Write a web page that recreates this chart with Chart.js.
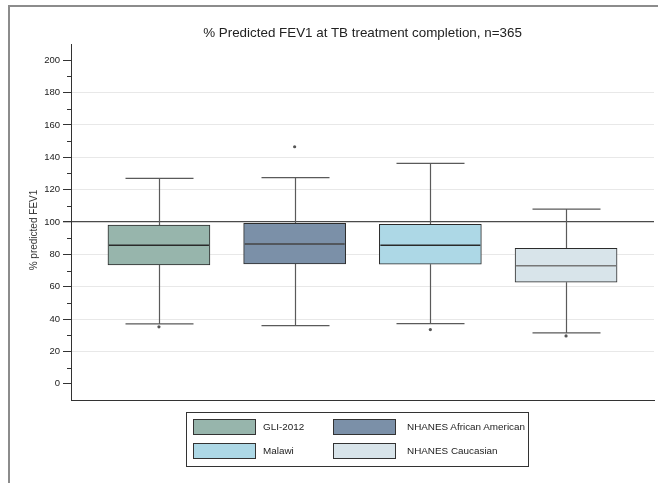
<!DOCTYPE html>
<html>
<head>
<meta charset="utf-8">
<title>% Predicted FEV1 at TB treatment completion</title>
<script src="https://cdn.jsdelivr.net/npm/chart.js@4.4.1/dist/chart.umd.min.js"></script>
<style>
  html, body { margin: 0; padding: 0; background: #fff; }
  #wrap { position: relative; width: 658px; height: 483px; overflow: hidden;
          font-family: "Liberation Sans", Arial, Helvetica, sans-serif; color: #222; }
  #chart { position: absolute; left: 0; top: 0; }
  .frame-top  { position: absolute; left: 8px; top: 5px; width: 650px; height: 2px; background: #8c8c8c; }
  .frame-left { position: absolute; left: 8px; top: 5px; width: 2px; height: 478px; background: #8c8c8c; }
  #title { position: absolute; top: 25px; height: 16px; line-height: 16px; text-align: center;
           font-size: 13.4px; font-weight: normal; color: #222; white-space: nowrap; }
  #ytitle { position: absolute; left: -16px; top: 224px; width: 100px; height: 12px; line-height: 12px;
            text-align: center; transform: rotate(-90deg); transform-origin: 50px 6px;
            font-size: 10px; font-weight: normal; color: #333; white-space: nowrap; }
  #legend { position: absolute; left: 186px; top: 412px; width: 341px; height: 53px; border: 1px solid #333; }
  .lg-sw { position: absolute; width: 61px; height: 14px; border: 1px solid #333; }
  .lg-tx { position: absolute; font-size: 9.9px; line-height: 16px; color: #222; white-space: nowrap; }
</style>
</head>
<body>
<div id="wrap">
  <canvas id="chart" width="658" height="483"></canvas>
  <div class="frame-top"></div>
  <div class="frame-left"></div>
  <div id="title">% Predicted FEV1 at TB treatment completion, n=365</div>
  <div id="ytitle">% predicted FEV1</div>
  <div id="legend"></div>
</div>
<script>
// Reference equation groups
const categories = ['GLI-2012', 'NHANES African American', 'Malawi', 'NHANES Caucasian'];

// Box-plot summaries of % predicted FEV1 per reference equation
const whiskerLow  = [37.0, 36.0, 37.2, 31.5];
const q1          = [73.5, 74.1, 73.9, 62.8];
const median      = [85.6, 86.4, 85.6, 73.0];
const q3          = [98.1, 99.2, 98.6, 83.8];
const whiskerHigh = [127.0, 127.4, 136.2, 108.0];
const outliers    = [[35.2], [146.5], [33.5], [29.6]];

// Axis ticks
const yTicks = [0, 20, 40, 60, 80, 100, 120, 140, 160, 180, 200];
const yMinorTicks = [10, 30, 50, 70, 90, 110, 130, 150, 170, 190];
const referenceLine = 100;

// Styling
const boxColors = ['#97b5ac', '#7b90a8', '#add8e6', '#d8e4ea'];
const medianColors = ['#2a2a2a', '#444444', '#2a2a2a', '#777777'];

const boxDatasets = categories.map((name, i) => ({
  type: 'bar',
  label: name,
  data: [{ x: i, y: [q1[i], q3[i]] }],
  backgroundColor: boxColors[i],
  borderColor: '#2b2b2b',
  borderWidth: 1,
  borderSkipped: false,
  barThickness: 102,
  grouped: false,
  order: 2
}));

const outlierDataset = {
  type: 'scatter',
  label: 'Outliers',
  data: outliers.flatMap((vals, i) => vals.map(v => ({ x: i, y: v }))),
  pointRadius: 1.6,
  pointHoverRadius: 1.6,
  backgroundColor: '#555',
  borderWidth: 0,
  order: 1
};

// Whiskers under the boxes, medians on top, minor ticks on the value axis
const boxPlotPlugin = {
  id: 'boxPlotParts',
  beforeDatasetsDraw(chart) {
    const { ctx, scales: { x, y } } = chart;
    const capHalf = 34;
    ctx.save();
    ctx.strokeStyle = '#5a5a5a';
    ctx.lineWidth = 1.2;
    categories.forEach((_, i) => {
      const cx = Math.round(x.getPixelForValue(i)) + 0.5;
      const yHi = y.getPixelForValue(whiskerHigh[i]);
      const yLo = y.getPixelForValue(whiskerLow[i]);
      const yQ3 = y.getPixelForValue(q3[i]);
      const yQ1 = y.getPixelForValue(q1[i]);
      ctx.beginPath();
      ctx.moveTo(cx, yQ3); ctx.lineTo(cx, yHi);
      ctx.moveTo(cx, yQ1); ctx.lineTo(cx, yLo);
      ctx.moveTo(cx - capHalf, yHi); ctx.lineTo(cx + capHalf, yHi);
      ctx.moveTo(cx - capHalf, yLo); ctx.lineTo(cx + capHalf, yLo);
      ctx.stroke();
    });
    ctx.restore();
  },
  afterDatasetsDraw(chart) {
    const { ctx, scales: { y } } = chart;
    ctx.save();
    ctx.lineWidth = 1.6;
    categories.forEach((_, i) => {
      const bar = chart.getDatasetMeta(i).data[0];
      const half = bar.width / 2;
      const ym = y.getPixelForValue(median[i]);
      ctx.strokeStyle = medianColors[i];
      ctx.beginPath();
      ctx.moveTo(bar.x - half + 1, ym);
      ctx.lineTo(bar.x + half - 1, ym);
      ctx.stroke();
    });
    ctx.restore();
  },
  afterDraw(chart) {
    const { ctx, chartArea, scales: { y } } = chart;
    ctx.save();
    ctx.strokeStyle = '#333';
    ctx.lineWidth = 1;
    ctx.beginPath();
    yMinorTicks.forEach(v => {
      const py = Math.round(y.getPixelForValue(v)) + 0.5;
      ctx.moveTo(chartArea.left - 4, py);
      ctx.lineTo(chartArea.left, py);
    });
    ctx.stroke();
    ctx.restore();
  }
};

const chart = new Chart(document.getElementById('chart'), {
  type: 'bar',
  data: { datasets: [...boxDatasets, outlierDataset] },
  options: {
    responsive: false,
    devicePixelRatio: 1,
    animation: false,
    layout: { padding: { left: 0, right: 4, top: 44, bottom: 83 } },
    plugins: {
      legend: { display: false },
      tooltip: { enabled: false },
      title: { display: false }
    },
    scales: {
      x: {
        type: 'linear',
        offset: false,
        min: -0.648,
        max: 3.648,
        ticks: { display: false },
        grid: { display: false },
        border: { display: true, color: '#333', width: 1 },
        afterFit(scale) { scale.height = 0; }
      },
      y: {
        type: 'linear',
        min: -10,
        max: 210,
        afterBuildTicks(scale) { scale.ticks = yTicks.map(v => ({ value: v })); },
        afterFit(scale) { scale.width = 71; },
        ticks: {
          color: '#222',
          padding: 3,
          font: { family: '"Liberation Sans", Arial, sans-serif', size: 9.5 }
        },
        grid: {
          drawTicks: true,
          tickLength: 8,
          tickColor: '#333',
          color(ctx) {
            const v = ctx.tick && ctx.tick.value;
            if (v === referenceLine) return '#4a4a4a';
            if (v > 0 && v < 200) return '#e8e8e8';
            return 'rgba(0,0,0,0)';
          },
          lineWidth(ctx) {
            return ctx.tick && ctx.tick.value === referenceLine ? 1.3 : 1;
          }
        },
        border: { display: true, color: '#333', width: 1 }
      }
    }
  },
  plugins: [boxPlotPlugin]
});

// Title centred over the plotting area
(function placeTitle() {
  const t = document.getElementById('title');
  const area = chart.chartArea;
  t.style.left = area.left + 'px';
  t.style.width = (area.right - area.left) + 'px';
})();

// Two-column legend built from the box datasets
(function buildLegend() {
  const legend = document.getElementById('legend');
  const swatchX = [6, 146];
  const textX = [76, 220];
  const rows = [6, 30];
  boxDatasets.forEach((ds, i) => {
    const col = i % 2, row = Math.floor(i / 2);
    const sw = document.createElement('div');
    sw.className = 'lg-sw';
    sw.style.left = swatchX[col] + 'px';
    sw.style.top = rows[row] + 'px';
    sw.style.background = ds.backgroundColor;
    const tx = document.createElement('div');
    tx.className = 'lg-tx';
    tx.style.left = textX[col] + 'px';
    tx.style.top = rows[row] + 'px';
    tx.textContent = ds.label;
    legend.appendChild(sw);
    legend.appendChild(tx);
  });
})();
</script>
</body>
</html>
